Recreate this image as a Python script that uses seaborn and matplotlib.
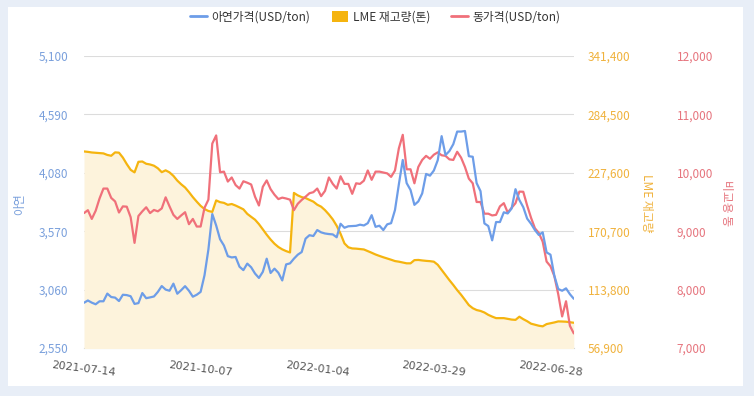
import numpy as np
import pandas as pd
import matplotlib
matplotlib.use("Agg")
import matplotlib.pyplot as plt
from matplotlib.lines import Line2D
from matplotlib.patches import Patch, Rectangle
import seaborn as sns

# values (roughly every second trading day)
zinc = [2945, 2965, 2946, 2932, 2958, 2958, 3025, 2995, 2990, 2960,
        3015, 3012, 3002, 2935, 2942, 3030, 2985, 2992, 3000, 3040,
        3091, 3060, 3050, 3112, 3024, 3055, 3090, 3050, 2998, 3015,
        3040, 3185, 3410, 3720, 3620, 3500, 3445, 3352, 3341, 3345,
        3260, 3230, 3287, 3255, 3200, 3162, 3215, 3330, 3205, 3243,
        3207, 3140, 3280, 3289, 3330, 3365, 3388, 3505, 3535, 3528,
        3580, 3560, 3550, 3545, 3542, 3517, 3635, 3600, 3613, 3615,
        3617, 3627, 3620, 3640, 3710, 3608, 3618, 3580, 3630, 3640,
        3755, 3980, 4192, 3990, 3930, 3800, 3830, 3900, 4070, 4055,
        4100, 4190, 4400, 4235, 4270, 4330, 4440, 4440, 4445, 4225,
        4220, 3990, 3920, 3638, 3615, 3490, 3650, 3650, 3735, 3725,
        3768, 3937, 3842, 3780, 3680, 3635, 3580, 3537, 3560, 3385,
        3365, 3180, 3065, 3050, 3071, 3020, 2980]

copper = [9310, 9360, 9210, 9350, 9560, 9730, 9730, 9570, 9510, 9320,
          9425, 9420, 9240, 8800, 9260, 9340, 9410, 9310, 9364, 9340,
          9390, 9580, 9425, 9280, 9210, 9270, 9325, 9120, 9210, 9080,
          9080, 9400, 9540, 10500, 10640, 10010, 10020, 9850, 9920, 9790,
          9730, 9855, 9830, 9800, 9590, 9440, 9760, 9870, 9720, 9625,
          9550, 9575, 9560, 9540, 9360, 9470, 9535, 9591, 9650, 9668,
          9730, 9600, 9690, 9920, 9810, 9730, 9940, 9810, 9810, 9640,
          9820, 9810, 9865, 10040, 9880, 10020, 10020, 10005, 9990, 9930,
          10040, 10420, 10650, 10060, 10060, 9820, 10100, 10220, 10290, 10240,
          10310, 10350, 10300, 10290, 10230, 10220, 10360, 10260, 10100, 9900,
          9820, 9500, 9500, 9300, 9300, 9270, 9280, 9425, 9480, 9320,
          9400, 9480, 9678, 9675, 9440, 9230, 9050, 8970, 8820, 8480,
          8400, 8230, 7920, 7540, 7800, 7380, 7250]

lme = [248400, 248000, 247400, 247100, 246800, 246500, 245000, 244200, 247500, 247200,
       242400, 236100, 230500, 228000, 238300, 238600, 236400, 235700, 234500, 232000,
       228200, 230000, 228000, 224600, 220000, 216400, 213300, 208800, 203900, 199500,
       195400, 192300, 190400, 189500, 200700, 199000, 198300, 196400, 197200, 195700,
       193900, 192000, 187600, 184700, 181900, 177600, 172500, 167300, 162600, 158500,
       155300, 153000, 151300, 150000, 208000, 205600, 203900, 203000, 201200, 199500,
       196500, 194600, 191200, 187000, 182200, 176000, 168200, 158800, 155000, 153900,
       153700, 153300, 152900, 151300, 149700, 148000, 146600, 145300, 144100, 142900,
       141600, 141000, 140200, 139400, 139400, 142500, 142700, 142200, 141800, 141500,
       141000, 138000, 133000, 128000, 123000, 118300, 113300, 108800, 103800, 98700,
       95700, 93900, 93000, 91500, 89200, 87500, 86000, 86000, 86000, 85300,
       84600, 84300, 87400, 85000, 83000, 80600, 79600, 78600, 78000, 80200,
       81000, 81800, 82800, 82700, 82500, 82000, 81500]

tick_pos = [0, 30, 60, 90, 120]
tick_labels = ["2021-07-14", "2021-10-07", "2022-01-04", "2022-03-29", "2022-06-28"]

zinc_ticks = [2550, 3060, 3570, 4080, 4590, 5100]
lme_ticks = [56900, 113800, 170700, 227600, 284500, 341400]
copper_ticks = [7000, 8000, 9000, 10000, 11000, 12000]

ZN = "#6d9de8"
LM = "#f5b40f"
CU = "#f0707a"
ZN_T = "#7aa0dc"
LM_T = "#f0b23c"
CU_T = "#e6757e"

sns.set_style("white")
plt.rcParams["font.family"] = ["Noto Sans CJK KR", "DejaVu Sans"]

df = pd.DataFrame({"idx": np.arange(len(zinc)), "zinc": zinc, "copper": copper, "lme": lme})

W, H = 754, 396
fig = plt.figure(figsize=(W / 100, H / 100), dpi=100)
fig.patch.set_facecolor("#e8eef7")
fig.patches.append(Rectangle((8 / W, 10 / H), 735 / W, 379 / H, transform=fig.transFigure,
                             facecolor="white", edgecolor="none", zorder=0))

ax = fig.add_axes([84 / W, 48 / H, 489.8 / W, 292 / H])
ax.set_facecolor("none")
ax2 = ax.twinx()
ax3 = ax.twinx()
ax4 = ax.twinx()
ax.set_zorder(1)
ax2.set_zorder(2)
ax3.set_zorder(3)
ax4.set_zorder(4)

# LME stock: filled area
ax2.fill_between(df["idx"], lme, 0, color="#fdf3dc", lw=0)
sns.lineplot(data=df, x="idx", y="lme", ax=ax2, color=LM, lw=1.6)
sns.lineplot(data=df, x="idx", y="copper", ax=ax3, color=CU, lw=1.6)
sns.lineplot(data=df, x="idx", y="zinc", ax=ax4, color=ZN, lw=1.6)

n = len(zinc) - 1
for a in (ax, ax2, ax3, ax4):
    a.set_xlim(0, n)
    a.set_xlabel("")
    a.set_ylabel("")
    for s in a.spines.values():
        s.set_visible(False)

ax.set_ylim(2550, 5100)
ax4.set_ylim(2550, 5100)
ax2.set_ylim(56900, 341400)
ax3.set_ylim(7000, 12000)

ax.set_yticks(zinc_ticks)
ax.set_yticklabels([f"{v:,}" for v in zinc_ticks])
ax.tick_params(axis="y", length=0, pad=11.5, labelsize=8.5, labelcolor=ZN_T)
ax.grid(axis="y", color="#dcdcdc", lw=0.8)
ax.grid(axis="x", visible=False)

ax2.set_yticks(lme_ticks)
ax2.set_yticklabels([f"{v:,}" for v in lme_ticks])
ax2.tick_params(axis="y", length=0, pad=10, labelsize=8.5, labelcolor=LM_T)

ax3.set_yticks(copper_ticks)
ax3.set_yticklabels([f"{v:,}" for v in copper_ticks])
ax3.tick_params(axis="y", length=0, pad=74, labelsize=8.5, labelcolor=CU_T)

ax4.set_yticks([])

ax.spines["bottom"].set_visible(True)
ax.spines["bottom"].set_color("#c8cdd5")
ax.set_xticks(tick_pos)
ax.set_xticklabels(tick_labels, fontfamily="DejaVu Sans")
ax.tick_params(axis="x", length=6.5, color="#c8cdd5", labelsize=8, labelcolor="#555555", pad=2)
for lab in ax.get_xticklabels():
    lab.set_rotation(-7)
    lab.set_ha("center")

fig.text(20 / W, 1 - 204 / H, "아연", rotation=90, color=ZN_T, fontsize=8.5, ha="center", va="center")
fig.text(647 / W, 1 - 203 / H, "LME 재고량", rotation=270, color=LM_T, fontsize=8.5, ha="center", va="center")
fig.text(727 / W, 1 - 203 / H, "비교용 동", rotation=270, color=CU_T, fontsize=8.5, ha="center", va="center")

handles = [Line2D([0], [0], color=ZN, lw=2),
           Patch(facecolor=LM, edgecolor="none"),
           Line2D([0], [0], color=CU, lw=2)]
labels = ["아연가격(USD/ton)", "LME 재고량(톤)", "동가격(USD/ton)"]
leg = fig.legend(handles, labels, loc="center", bbox_to_anchor=(0.498, 1 - 17 / H), ncol=3,
                 frameon=False, fontsize=8.5, handlelength=1.4, handleheight=1.1,
                 handletextpad=0.4, columnspacing=1.8)
for t in leg.get_texts():
    t.set_color("#333333")

fig.savefig("out.png", dpi=100, facecolor=fig.get_facecolor())
